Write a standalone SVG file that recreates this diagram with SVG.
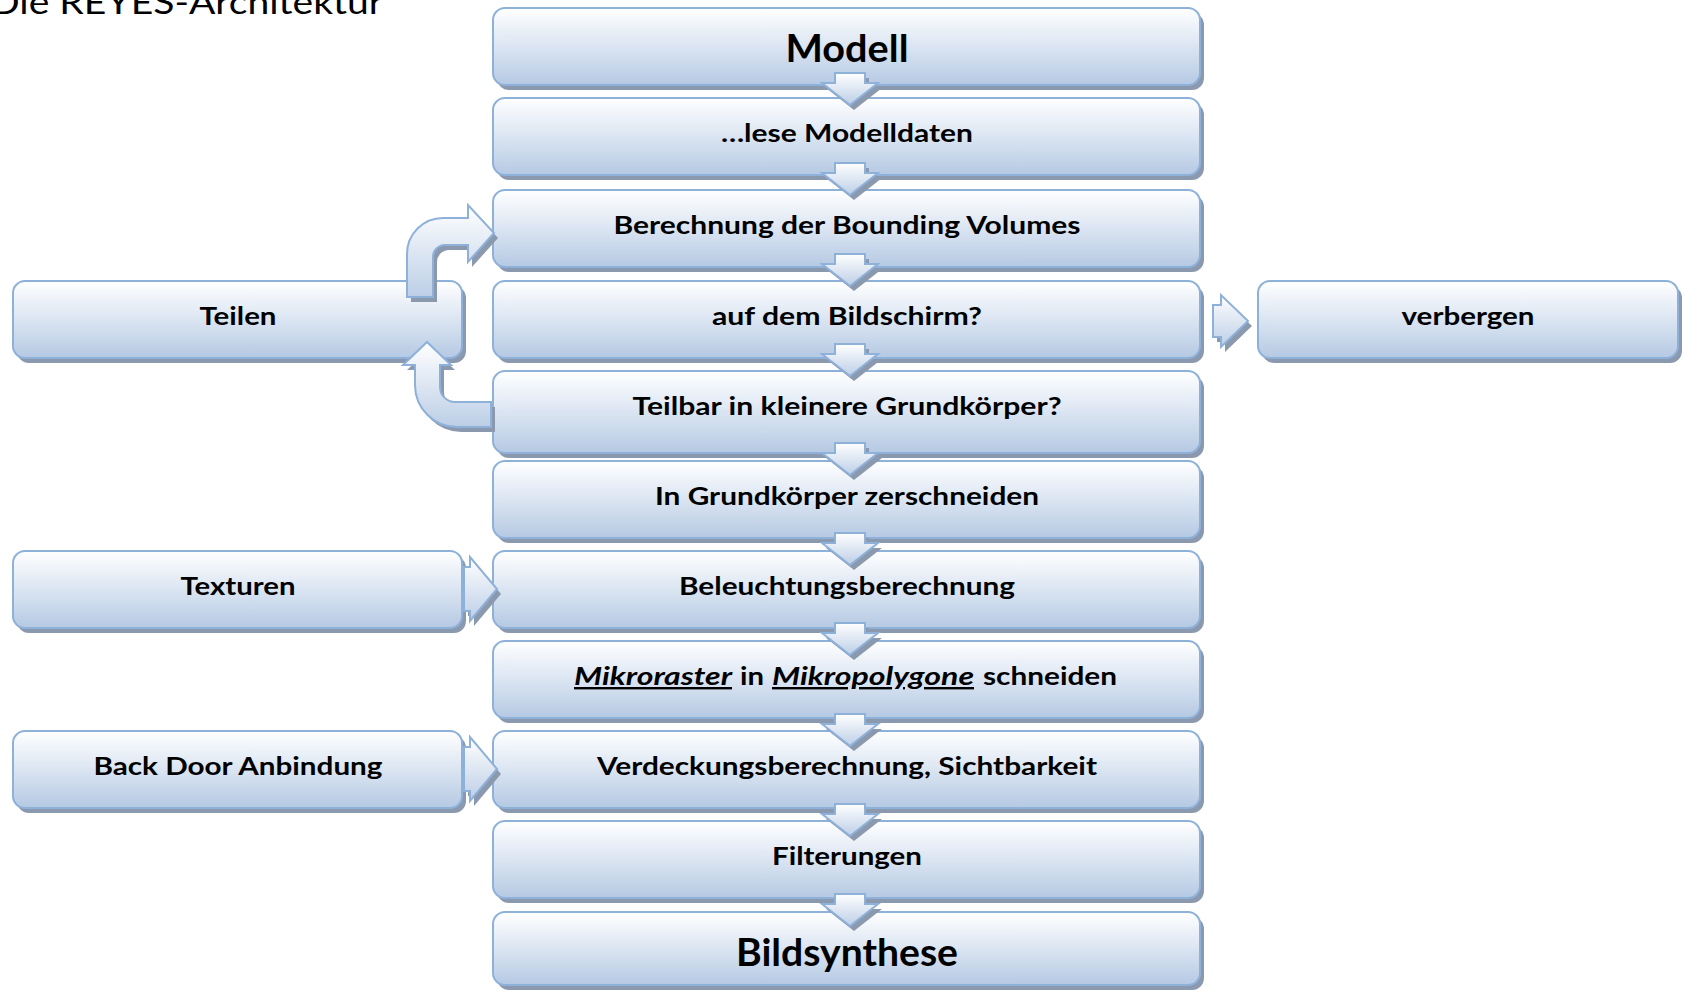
<svg xmlns="http://www.w3.org/2000/svg" xmlns:xlink="http://www.w3.org/1999/xlink" width="1682" height="990" viewBox="0 0 1682 990">
<defs>
<linearGradient id="boxg" x1="0" y1="0" x2="0" y2="1">
<stop offset="0" stop-color="#ffffff"/>
<stop offset="0.5" stop-color="#dbe5f2"/>
<stop offset="1" stop-color="#b5c9e3"/>
</linearGradient>
<linearGradient id="arrg" x1="0" y1="0" x2="0" y2="1">
<stop offset="0" stop-color="#ffffff"/>
<stop offset="1" stop-color="#bccee6"/>
</linearGradient>
<path id="dArr" d="M-15,0 H15 V10 H28 L0,32 L-28,10 H-15 Z"/>
<path id="rArrS" d="M0,-16 H8 V-26 L35,0 L8,26 V16 H0 Z"/>
<path id="rArrL" d="M0,-22 H6 V-32 L33,0 L6,32 V22 H0 Z"/>
<path id="cArrUp" d="M407,297 L407,254 A36,36 0 0 1 443,218 L468,218 L468,205 L494,233 L468,262 L468,245 L445,245 A12,12 0 0 0 433,257 L433,297 Z"/>
<path id="cArrBack" d="M491,402 L455,402 A15,15 0 0 1 440,387 L440,365 L451,365 L427,342 L403,365 L415,365 L415,385 A42,42 0 0 0 457,427 L491,427 Z"/>
<style>
.box{fill:url(#boxg);stroke:#8eb1da;stroke-width:2}
.shd{fill:#8b99af;stroke:none}
.arr{fill:url(#arrg);stroke:#8eb1da;stroke-width:2;stroke-linejoin:miter}
.lbl{font-family:Lato,"Liberation Sans",sans-serif;font-weight:700;font-size:24px;fill:#000;text-anchor:middle}
.big{font-size:38px}
.ttl{font-family:Lato,"Liberation Sans",sans-serif;font-weight:400;font-size:32px;fill:#000}
</style>
</defs>
<rect width="1682" height="990" fill="#ffffff"/>
<text class="ttl" x="-10" y="14" textLength="393" lengthAdjust="spacingAndGlyphs">Die REYES-Architektur</text>

<g id="n-modell">
<rect class="shd" x="497" y="13" width="707" height="77" rx="12"/>
<rect class="box" x="493" y="8" width="707" height="77" rx="12"/>
<text class="lbl big" x="847" y="62" textLength="123" lengthAdjust="spacingAndGlyphs">Modell</text>
</g>
<g id="n-lese">
<rect class="shd" x="497" y="103" width="707" height="77" rx="12"/>
<rect class="box" x="493" y="98" width="707" height="77" rx="12"/>
<text class="lbl" x="847" y="142" textLength="252" lengthAdjust="spacingAndGlyphs">…lese Modelldaten</text>
</g>
<g id="n-berechnung">
<rect class="shd" x="497" y="195" width="707" height="77" rx="12"/>
<rect class="box" x="493" y="190" width="707" height="77" rx="12"/>
<text class="lbl" x="847" y="234" textLength="467" lengthAdjust="spacingAndGlyphs">Berechnung der Bounding Volumes</text>
</g>
<g id="n-bildschirm">
<rect class="shd" x="497" y="286" width="707" height="77" rx="12"/>
<rect class="box" x="493" y="281" width="707" height="77" rx="12"/>
<text class="lbl" x="847" y="325" textLength="270" lengthAdjust="spacingAndGlyphs">auf dem Bildschirm?</text>
</g>
<g id="n-teilbar">
<rect class="shd" x="497" y="376" width="707" height="82" rx="12"/>
<rect class="box" x="493" y="371" width="707" height="82" rx="12"/>
<text class="lbl" x="847" y="415" textLength="429" lengthAdjust="spacingAndGlyphs">Teilbar in kleinere Grundkörper?</text>
</g>
<g id="n-zerschneiden">
<rect class="shd" x="497" y="466" width="707" height="77" rx="12"/>
<rect class="box" x="493" y="461" width="707" height="77" rx="12"/>
<text class="lbl" x="847" y="505" textLength="384" lengthAdjust="spacingAndGlyphs">In Grundkörper zerschneiden</text>
</g>
<g id="n-beleuchtung">
<rect class="shd" x="497" y="556" width="707" height="77" rx="12"/>
<rect class="box" x="493" y="551" width="707" height="77" rx="12"/>
<text class="lbl" x="847" y="595" textLength="336" lengthAdjust="spacingAndGlyphs">Beleuchtungsberechnung</text>
</g>
<g id="n-mikro">
<rect class="shd" x="497" y="646" width="707" height="77" rx="12"/>
<rect class="box" x="493" y="641" width="707" height="77" rx="12"/>
<text class="lbl" y="685" style="text-anchor:start"><tspan x="574" textLength="158" lengthAdjust="spacingAndGlyphs" font-style="italic" text-decoration="underline">Mikroraster</tspan><tspan x="740" textLength="24" lengthAdjust="spacingAndGlyphs">in</tspan><tspan x="772" textLength="202" lengthAdjust="spacingAndGlyphs" font-style="italic" text-decoration="underline">Mikropolygone</tspan><tspan x="983" textLength="134" lengthAdjust="spacingAndGlyphs">schneiden</tspan></text>
</g>
<g id="n-verdeckung">
<rect class="shd" x="497" y="736" width="707" height="77" rx="12"/>
<rect class="box" x="493" y="731" width="707" height="77" rx="12"/>
<text class="lbl" x="847" y="775" textLength="500" lengthAdjust="spacingAndGlyphs">Verdeckungsberechnung, Sichtbarkeit</text>
</g>
<g id="n-filterungen">
<rect class="shd" x="497" y="826" width="707" height="77" rx="12"/>
<rect class="box" x="493" y="821" width="707" height="77" rx="12"/>
<text class="lbl" x="847" y="865" textLength="150" lengthAdjust="spacingAndGlyphs">Filterungen</text>
</g>
<g id="n-bildsynthese">
<rect class="shd" x="497" y="917" width="707" height="73" rx="12"/>
<rect class="box" x="493" y="912" width="707" height="73" rx="12"/>
<text class="lbl big" x="847" y="966" textLength="222" lengthAdjust="spacingAndGlyphs">Bildsynthese</text>
</g>
<g id="n-teilen">
<rect class="shd" x="17" y="286" width="449" height="77" rx="12"/>
<rect class="box" x="13" y="281" width="449" height="77" rx="12"/>
<text class="lbl" x="238" y="325" textLength="77" lengthAdjust="spacingAndGlyphs">Teilen</text>
</g>
<g id="n-verbergen">
<rect class="shd" x="1262" y="286" width="420" height="77" rx="12"/>
<rect class="box" x="1258" y="281" width="420" height="77" rx="12"/>
<text class="lbl" x="1468" y="325" textLength="133" lengthAdjust="spacingAndGlyphs">verbergen</text>
</g>
<g id="n-texturen">
<rect class="shd" x="17" y="556" width="449" height="77" rx="12"/>
<rect class="box" x="13" y="551" width="449" height="77" rx="12"/>
<text class="lbl" x="238" y="595" textLength="115" lengthAdjust="spacingAndGlyphs">Texturen</text>
</g>
<g id="n-backdoor">
<rect class="shd" x="17" y="736" width="449" height="77" rx="12"/>
<rect class="box" x="13" y="731" width="449" height="77" rx="12"/>
<text class="lbl" x="238" y="775" textLength="289" lengthAdjust="spacingAndGlyphs">Back Door Anbindung</text>
</g>

<g id="connectors">
<g transform="translate(850,73)"><use xlink:href="#dArr" class="shd" x="4" y="5"/><use xlink:href="#dArr" class="arr"/></g>
<g transform="translate(850,163)"><use xlink:href="#dArr" class="shd" x="4" y="5"/><use xlink:href="#dArr" class="arr"/></g>
<g transform="translate(850,254)"><use xlink:href="#dArr" class="shd" x="4" y="5"/><use xlink:href="#dArr" class="arr"/></g>
<g transform="translate(850,344)"><use xlink:href="#dArr" class="shd" x="4" y="5"/><use xlink:href="#dArr" class="arr"/></g>
<g transform="translate(850,443)"><use xlink:href="#dArr" class="shd" x="4" y="5"/><use xlink:href="#dArr" class="arr"/></g>
<g transform="translate(850,533)"><use xlink:href="#dArr" class="shd" x="4" y="5"/><use xlink:href="#dArr" class="arr"/></g>
<g transform="translate(850,623)"><use xlink:href="#dArr" class="shd" x="4" y="5"/><use xlink:href="#dArr" class="arr"/></g>
<g transform="translate(850,714)"><use xlink:href="#dArr" class="shd" x="4" y="5"/><use xlink:href="#dArr" class="arr"/></g>
<g transform="translate(850,804)"><use xlink:href="#dArr" class="shd" x="4" y="5"/><use xlink:href="#dArr" class="arr"/></g>
<g transform="translate(850,894)"><use xlink:href="#dArr" class="shd" x="4" y="5"/><use xlink:href="#dArr" class="arr"/></g>
<g transform="translate(1213,321)"><use xlink:href="#rArrS" class="shd" x="4" y="5"/><use xlink:href="#rArrS" class="arr"/></g>
<g transform="translate(464,589)"><use xlink:href="#rArrL" class="shd" x="4" y="5"/><use xlink:href="#rArrL" class="arr"/></g>
<g transform="translate(464,769)"><use xlink:href="#rArrL" class="shd" x="4" y="5"/><use xlink:href="#rArrL" class="arr"/></g>
<use xlink:href="#cArrUp" class="shd" x="4" y="5"/><use xlink:href="#cArrUp" class="arr"/>
<use xlink:href="#cArrBack" class="shd" x="4" y="5"/><use xlink:href="#cArrBack" class="arr"/>
</g>
</svg>
